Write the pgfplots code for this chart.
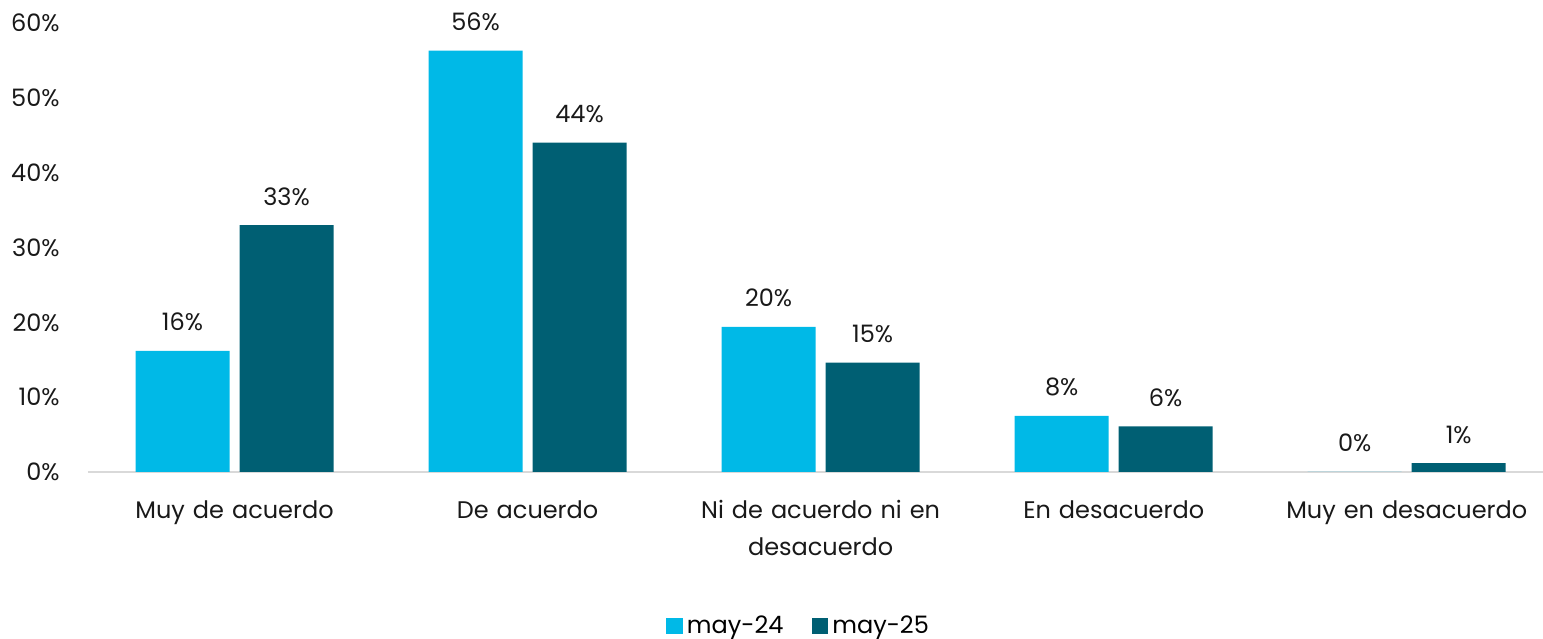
\documentclass[border=0pt]{standalone}
\usepackage{pgfplots}
\pgfplotsset{compat=1.18}
\usepackage{fontspec}
\setmainfont{Poppins}
\usetikzlibrary{calc}
\definecolor{lightb}{HTML}{00B9E7}
\definecolor{darkb}{HTML}{005F73}
\begin{document}
\begin{tikzpicture}
\begin{axis}[
  scale only axis, width=727.5pt, height=224.5pt,
  ybar=5pt, bar width=47pt,
  xmin=-0.5, xmax=4.465, ymin=0, ymax=60,
  ytick={0,10,...,60},
  yticklabel={\pgfmathprintnumber{\tick}\%},
  /pgf/number format/assume math mode=true,
  xtick={0,1,2,3,4},
  xticklabels={Muy de acuerdo, De acuerdo, Ni de acuerdo ni en\\desacuerdo, En desacuerdo, Muy en desacuerdo},
  axis x line*=bottom, axis y line*=left,
  y axis line style={draw=none},
  x axis line style={draw=black!15, line width=1pt},
  major tick length=0pt,
  tick style={draw=none},
  tick label style={font=\fontsize{12}{18.5}\selectfont, text=black!90},
  yticklabel style={anchor=east, inner sep=0pt, xshift=-14pt},
  xticklabel style={anchor=north, inner sep=0pt, yshift=-14pt, align=center, text width=140pt},
  nodes near coords={\pgfmathprintnumber{\pgfplotspointmeta}\%},
  point meta=explicit,
  nodes near coords style={font=\fontsize{12}{14}\selectfont, text=black!90, anchor=base, inner sep=0pt, yshift=10pt},
  legend style={at={(0.489,-0.343)}, anchor=center, draw=none, legend columns=2,
    font=\fontsize{12}{14}\selectfont, inner sep=0pt,
    /tikz/every even column/.append style={column sep=12pt}},
  legend image code/.code={\fill[#1] (0pt,-4.2pt) rectangle (8.4pt,4.2pt);},
  clip=false,
]
\addplot[fill=lightb, draw=none] table[x=x, y=y, meta=m] {
x y m
0 16.2 16
1 56.3 56
2 19.4 20
3 7.5 8
4 0 0
};
\addplot[fill=darkb, draw=none] table[x=x, y=y, meta=m] {
x y m
0 33.0 33
1 44.0 44
2 14.6 15
3 6.1 6
4 1.2 1
};
\legend{may-24, may-25}
\end{axis}
\pgfresetboundingbox
\path[use as bounding box] ($(current axis.south west)+(-44pt,-83.5pt)$) rectangle ($(current axis.north east)+(0pt,11.5pt)$);
\end{tikzpicture}
\end{document}
